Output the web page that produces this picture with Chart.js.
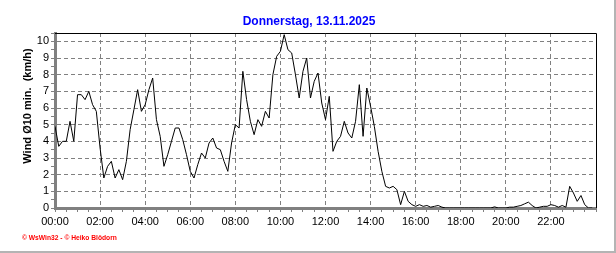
<!DOCTYPE html>
<html>
<head>
<meta charset="utf-8">
<script src="https://cdn.jsdelivr.net/npm/chart.js"></script>
<style>
  html, body { margin: 0; padding: 0; background: #fff; }
  canvas { display: block; }
</style>
</head>
<body>
<canvas id="windChart" width="616" height="253"></canvas>
<script>
// Wind, 10-minute mean (km/h), one value every 10 minutes from 00:00
const intervalMinutes = 10;
const windValues = [
  4.9, 3.7, 4.0, 4.0, 5.2, 4.0, 6.8, 6.8, 6.5, 7.0, 6.2, 5.8,   // 00:00 - 01:50
  3.6, 1.8, 2.5, 2.8, 1.8, 2.3, 1.7, 2.8, 4.7, 5.9, 7.1, 5.8,   // 02:00 - 03:50
  6.2, 7.1, 7.8, 5.3, 4.3, 2.5, 3.2, 4.0, 4.8, 4.8, 4.1, 3.2,   // 04:00 - 05:50
  2.2, 1.8, 2.6, 3.3, 3.0, 3.9, 4.2, 3.6, 3.5, 2.8, 2.2, 3.9,   // 06:00 - 07:50
  5.0, 4.8, 8.2, 6.5, 5.2, 4.4, 5.3, 4.9, 5.8, 5.4, 8.0, 9.1,   // 08:00 - 09:50
  9.4, 10.4, 9.5, 9.3, 8.0, 6.6, 8.2, 9.0, 6.6, 7.6, 8.1, 6.3,  // 10:00 - 11:50
  5.3, 6.7, 3.4, 4.0, 4.3, 5.2, 4.5, 4.2, 5.2, 7.4, 4.3, 7.2,   // 12:00 - 13:50
  6.1, 4.9, 3.4, 2.2, 1.3, 1.2, 1.3, 1.1, 0.2, 1.0, 0.4, 0.2,   // 14:00 - 15:50
  0.1, 0.2, 0.1, 0.15, 0.05, 0.1, 0.15, 0.05, 0, 0, 0, 0,       // 16:00 - 17:50
  0, 0, 0, 0, 0, 0, 0, 0, 0, 0.07, 0, 0,                        // 18:00 - 19:50
  0, 0.05, 0.05, 0.1, 0.15, 0.25, 0.35, 0.15, 0, 0.05, 0.1, 0.1, // 20:00 - 21:50
  0.2, 0.15, 0.05, 0.15, 0.05, 1.3, 0.9, 0.4, 0.75, 0.2, 0, 0   // 22:00 - 23:50
];

const chartTitle = 'Donnerstag, 13.11.2025';
const yAxisTitle = 'Wind \u00D810 min.  (km/h)';
const creditText = '\u00A9 WsWin32 - \u00A9 Heiko Bl\u00F6dorn';

const xMaxHours = 24;
const yMax = 10.5;

const points = windValues.map((v, i) => ({ x: i * intervalMinutes / 60, y: v }));

const pad2 = n => String(n).padStart(2, '0');
const grey = '#808080';

Chart.defaults.font.family = "'Liberation Sans', Arial, sans-serif";
Chart.defaults.font.size = 11;
Chart.defaults.color = '#000';

// frame, titles and credit line
const decorations = {
  id: 'decorations',
  afterDraw(chart) {
    const { ctx, chartArea: a } = chart;
    ctx.save();
    // black top and right frame of the plot
    ctx.strokeStyle = '#000';
    ctx.lineWidth = 1;
    ctx.beginPath();
    ctx.moveTo(a.left, a.top + 0.5);
    ctx.lineTo(a.right + 0.5, a.top + 0.5);
    ctx.lineTo(a.right + 0.5, a.bottom);
    ctx.stroke();

    // title
    ctx.fillStyle = '#0000ff';
    ctx.font = "bold 12px 'Liberation Sans', Arial, sans-serif";
    ctx.textAlign = 'center';
    ctx.textBaseline = 'middle';
    ctx.fillText(chartTitle, 309, 22);

    // y axis title
    ctx.fillStyle = '#000';
    ctx.font = "bold 11px 'Liberation Sans', Arial, sans-serif";
    ctx.translate(28, 106);
    ctx.rotate(-Math.PI / 2);
    ctx.fillText(yAxisTitle, 0, 0);
    ctx.setTransform(1, 0, 0, 1, 0, 0);

    // credit
    ctx.fillStyle = '#ff0000';
    ctx.font = "bold 6.7px 'Liberation Sans', Arial, sans-serif";
    ctx.textAlign = 'left';
    ctx.fillText(creditText, 22, 238);

    // outer window edge
    ctx.fillStyle = '#b4b4b4';
    ctx.fillRect(614, 0, 2, 253);
    ctx.fillRect(0, 251, 616, 2);
    ctx.restore();
  }
};

new Chart(document.getElementById('windChart'), {
  type: 'line',
  data: {
    datasets: [{
      data: points,
      borderColor: '#000',
      borderWidth: 1,
      pointRadius: 0,
      tension: 0,
      fill: false
    }]
  },
  options: {
    responsive: false,
    animation: false,
    layout: { padding: { top: 33, right: 20, left: 0, bottom: 0 } },
    plugins: {
      legend: { display: false },
      title: { display: false },
      tooltip: { enabled: false }
    },
    scales: {
      x: {
        type: 'linear',
        min: 0,
        max: xMaxHours,
        ticks: {
          stepSize: 0.5,
          autoSkip: false,
          maxRotation: 0,
          padding: 3,
          callback: v => (v % 2 === 0 && v < 24) ? pad2(v) + ':00' : ''
        },
        grid: {
          color: c => (c.tick && c.tick.value % 2 === 0 && c.tick.value > 0 && c.tick.value < 24) ? grey : 'rgba(0,0,0,0)',
          lineWidth: 1,
          tickLength: 4,
          tickColor: grey,
          tickWidth: 1
        },
        border: { color: grey, width: 3, dash: [4, 3] },
        afterFit: s => { s.height = 45; }
      },
      y: {
        min: 0,
        max: yMax,
        ticks: {
          stepSize: 0.5,
          autoSkip: false,
          padding: 2,
          callback: v => Number.isInteger(v) ? String(v) : ''
        },
        grid: {
          color: c => (c.tick && Number.isInteger(c.tick.value) && c.tick.value > 0) ? grey : 'rgba(0,0,0,0)',
          lineWidth: 1,
          tickLength: 4,
          tickColor: grey,
          tickWidth: 1
        },
        border: { color: grey, width: 3, dash: [4, 3] },
        afterFit: s => { s.width = 55; }
      }
    }
  },
  plugins: [decorations]
});
</script>
</body>
</html>
